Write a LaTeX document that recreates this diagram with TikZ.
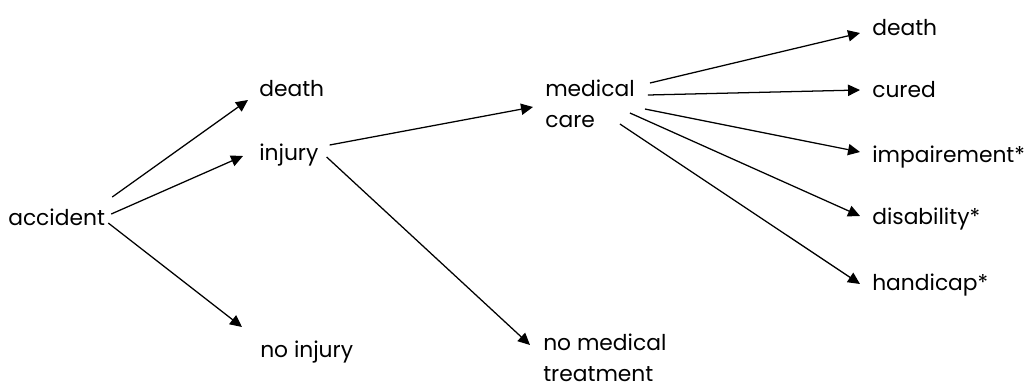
\documentclass[tikz,border=0pt]{standalone}
\usepackage{fontspec}
\setmainfont{Poppins}
\usepackage{tikz}
\usetikzlibrary{arrows.meta}

\begin{document}
\begin{tikzpicture}[
    x=0.025cm, y=-0.025cm,
    outcome/.style={anchor=base west, inner sep=0pt, font=\fontsize{15.5}{22}\selectfont},
    twoline/.style={anchor=north west, inner sep=0pt, align=left, font=\fontsize{15.5}{21.5}\selectfont},
    arrow/.style={-{Triangle[length=8.5pt, width=8pt]}, line width=0.9pt}
]
    \useasboundingbox (0,0) rectangle (1027,389);

    % first stage
    \node[outcome] (accident) at (8,225) {accident};
    \node[outcome] (death1) at (259,96) {death};
    \node[outcome] (injury) at (259,160) {injury};
    \node[outcome] (noinjury) at (260,357) {no injury};

    % second stage
    \node[twoline] (medcare) at (545,80) {medical\\care};
    \node[twoline] (nomed) at (543,334) {no medical\\treatment};

    % final outcomes
    \node[outcome] (death2) at (872,35) {death};
    \node[outcome] (cured) at (872,97) {cured};
    \node[outcome] (impair) at (872,162) {impairement*};
    \node[outcome] (disab) at (872,224) {disability*};
    \node[outcome] (handi) at (872,290) {handicap*};

    \draw[arrow] ([shift={(7,-28)}]accident.base east) -- ([shift={(-11,4)}]death1.base west);
    \draw[arrow] ([shift={(6,-11)}]accident.base east) -- ([shift={(-16,-4)}]injury.base west);
    \draw[arrow] ([shift={(3,-2)}]accident.base east) -- ([shift={(-18,-30)}]noinjury.base west);

    \draw[arrow] ([shift={(11,-15)}]injury.base east) -- ([shift={(-12,27)}]medcare.north west);
    \draw[arrow] ([shift={(8,-3)}]injury.base east) -- ([shift={(-13,11)}]nomed.north west);

    \draw[arrow] ([shift={(15,3)}]medcare.north east) -- ([shift={(-12,-2)}]death2.base west);
    \draw[arrow] ([shift={(13,15)}]medcare.north east) -- ([shift={(-12,-7)}]cured.base west);
    \draw[arrow] ([shift={(10,29)}]medcare.north east) -- ([shift={(-12,-10)}]impair.base west);
    \draw[arrow] ([shift={(-5,33)}]medcare.north east) -- ([shift={(-12,-8)}]disab.base west);
    \draw[arrow] ([shift={(-15,44)}]medcare.north east) -- ([shift={(-12,-6)}]handi.base west);
\end{tikzpicture}
\end{document}
